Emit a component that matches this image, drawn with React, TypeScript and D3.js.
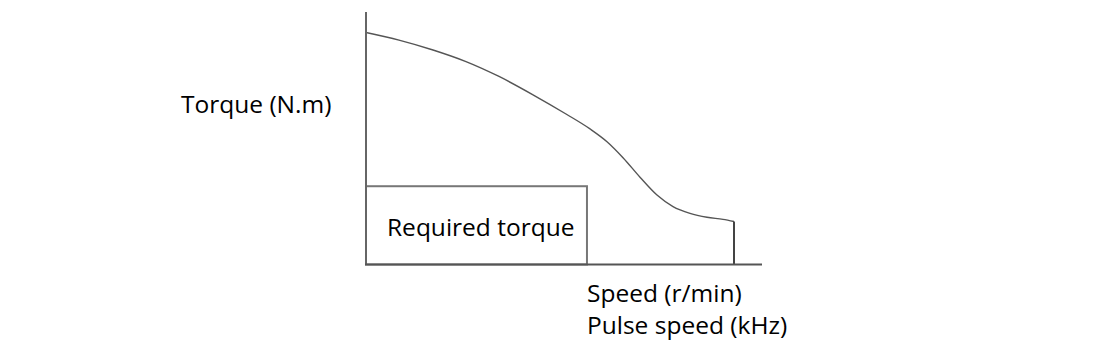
import React from "react";
import * as d3 from "d3";

// Torque-speed curve (relative units: speed 0..100, torque 0..100)
const curveSpeed = [0, 8.33, 16.92, 25.25, 33.59, 42.17, 50.51, 56.57, 60.86, 64.9, 69.19, 73.48, 77.53, 81.82, 86.11, 90.15, 92.93];
const curveTorque = [91.88, 88.87, 84.95, 80.36, 74.46, 67.21, 59.6, 53.7, 48.63, 42.3, 34.57, 27.49, 22.93, 20.24, 18.69, 17.86, 17.03];
const requiredSpeed = 55.8;
const requiredTorque = 31;
const axisMaxSpeed = 100;
const axisMaxTorque = 100;
const labels = {
  y: "Torque (N.m)",
  x1: "Speed (r/min)",
  x2: "Pulse speed (kHz)",
  box: "Required torque",
};

const W = 1100;
const H = 358;
const FONT = "'Open Sans', 'Noto Sans', sans-serif";

export default function App() {
  const x = d3.scaleLinear().domain([0, axisMaxSpeed]).range([366, 762]);
  const y = d3.scaleLinear().domain([0, axisMaxTorque]).range([264.5, 12]);
  const pts: [number, number][] = curveSpeed.map((s, i) => [s, curveTorque[i]]);
  const line = d3
    .line<[number, number]>()
    .x((d) => x(d[0]))
    .y((d) => y(d[1]))
    .curve(d3.curveMonotoneX);
  const last = pts[pts.length - 1];

  return (
    <svg
      width={W}
      height={H}
      style={{ position: "absolute", left: 0, top: 0, background: "#fff" }}
    >
      {/* curve */}
      <path d={line(pts) || ""} fill="none" stroke="#555" strokeWidth={1.4} />
      {/* drop at max speed */}
      <line x1={x(last[0])} x2={x(last[0])} y1={y(last[1])} y2={y(0)} stroke="#444" strokeWidth={2} />
      {/* required torque box */}
      <rect
        x={x(0)}
        y={y(requiredTorque)}
        width={x(requiredSpeed) - x(0)}
        height={y(0) - y(requiredTorque)}
        fill="none"
        stroke="#777"
        strokeWidth={2}
      />
      {/* axes */}
      <line x1={x(0)} x2={x(0)} y1={y(axisMaxTorque)} y2={y(0)} stroke="#666" strokeWidth={2} />
      <line x1={x(0) - 1} x2={x(axisMaxSpeed)} y1={y(0)} y2={y(0)} stroke="#555" strokeWidth={2} />
      {/* labels */}
      <g fontFamily={FONT} fontSize={24.5} fill="#000">
        <text x={181} y={113}>{labels.y}</text>
        <text x={387} y={236}>{labels.box}</text>
        <text x={587} y={302}>{labels.x1}</text>
        <text x={587} y={334}>{labels.x2}</text>
      </g>
    </svg>
  );
}
